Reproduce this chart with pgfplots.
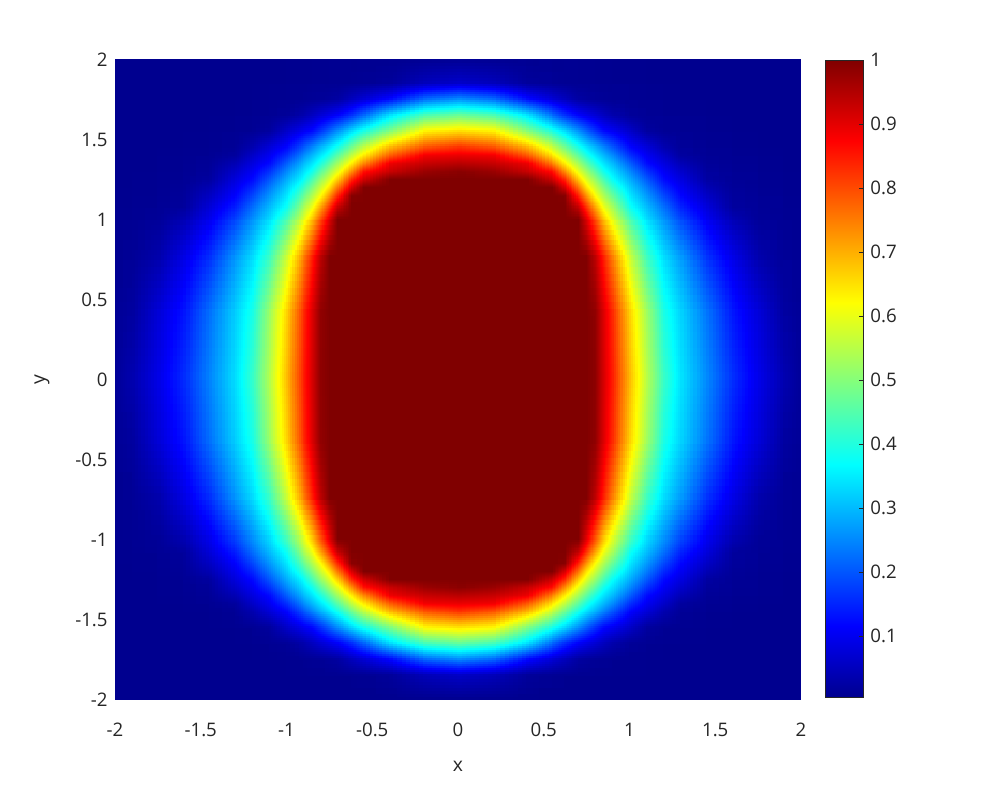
\documentclass[border=0pt]{standalone}
\usepackage{pgfplots}
\pgfplotsset{compat=1.18}
\usepgfplotslibrary{patchplots}
\usepackage{fontspec}
\setmainfont{Open Sans}
\definecolor{txt}{RGB}{38,38,38}

\begin{document}
\begin{tikzpicture}
\path[use as bounding box] (0,0) rectangle (747pt,590.25pt);
\begin{axis}[
  at={(86.25pt,65.25pt)}, anchor=south west,
  scale only axis, width=514.5pt, height=480pt,
  xmin=-2, xmax=2, ymin=-2, ymax=2,
  axis line style={draw=none},
  major tick length=0pt,
  xtick={-2,-1.5,-1,-0.5,0,0.5,1,1.5,2},
  ytick={-2,-1.5,-1,-0.5,0,0.5,1,1.5,2},
  xticklabels={-2,-1.5,-1,-0.5,0,0.5,1,1.5,2},
  yticklabels={-2,-1.5,-1,-0.5,0,0.5,1,1.5,2},
  tick label style={font=\fontsize{14}{16}\selectfont, text=txt},
  xticklabel style={yshift=-13.5pt},
  yticklabel style={xshift=-2pt},
  xlabel={x}, ylabel={y},
  label style={font=\fontsize{14.5}{17}\selectfont, text=txt},
  xlabel style={at={(axis description cs:0.5,-0.103)}, anchor=center},
  ylabel style={at={(axis description cs:-0.1064,0.5)}, anchor=center},
  colormap={mjet}{rgb255(0pt)=(0,0,143) rgb255(7pt)=(0,0,255) rgb255(23pt)=(0,255,255) rgb255(39pt)=(255,255,0) rgb255(55pt)=(255,0,0) rgb255(63pt)=(128,0,0)},
  point meta min=0.005, point meta max=1,
  colorbar,
  colorbar/width=28.5pt,
  colorbar style={
    at={(parent axis.north east)}, anchor=north west, xshift=9.47pt,
    height=477.75pt,
    ytick={0.1,0.2,0.3,0.4,0.5,0.6,0.7,0.8,0.9,1},
    yticklabels={0.1,0.2,0.3,0.4,0.5,0.6,0.7,0.8,0.9,1},
    yticklabel style={font=\fontsize{14}{16}\selectfont, text=txt, xshift=2pt},
    major tick length=3pt, tick align=inside, ytick pos=right,
    axis line style={draw=txt, line width=0.5pt},
    tick style={draw=txt, line width=0.5pt},
  },
]
\addplot[surf, shader=interp, patch type=bilinear, mesh/cols=37, point meta=\thisrow{z}] table[row sep=\\] {
x y z\\
-2 -2 0.005\\ -1.9 -2 0.005\\ -1.75 -2 0.005\\ -1.6 -2 0.005\\ -1.45 -2 0.005\\ -1.3 -2 0.005\\ -1.2 -2 0.005\\ -1.1 -2 0.005\\ -1 -2 0.005\\ -0.9 -2 0.005\\ -0.85 -2 0.005\\ -0.8 -2 0.005\\ -0.75 -2 0.005\\ -0.7 -2 0.005\\ -0.62 -2 0.005\\ -0.55 -2 0.005\\ -0.4 -2 0.006\\ -0.2 -2 0.007\\ 0 -2 0.008\\ 0.2 -2 0.007\\ 0.4 -2 0.006\\ 0.55 -2 0.005\\ 0.62 -2 0.005\\ 0.7 -2 0.005\\ 0.75 -2 0.005\\ 0.8 -2 0.005\\ 0.85 -2 0.005\\ 0.9 -2 0.005\\ 1 -2 0.005\\ 1.1 -2 0.005\\ 1.2 -2 0.005\\ 1.3 -2 0.005\\ 1.45 -2 0.005\\ 1.6 -2 0.005\\ 1.75 -2 0.005\\ 1.9 -2 0.005\\ 2 -2 0.005\\
-2 -1.85 0.005\\ -1.9 -1.85 0.005\\ -1.75 -1.85 0.005\\ -1.6 -1.85 0.005\\ -1.45 -1.85 0.005\\ -1.3 -1.85 0.005\\ -1.2 -1.85 0.005\\ -1.1 -1.85 0.005\\ -1 -1.85 0.006\\ -0.9 -1.85 0.006\\ -0.85 -1.85 0.007\\ -0.8 -1.85 0.007\\ -0.75 -1.85 0.008\\ -0.7 -1.85 0.008\\ -0.62 -1.85 0.009\\ -0.55 -1.85 0.011\\ -0.4 -1.85 0.017\\ -0.2 -1.85 0.047\\ 0 -1.85 0.061\\ 0.2 -1.85 0.047\\ 0.4 -1.85 0.017\\ 0.55 -1.85 0.011\\ 0.62 -1.85 0.009\\ 0.7 -1.85 0.008\\ 0.75 -1.85 0.008\\ 0.8 -1.85 0.007\\ 0.85 -1.85 0.007\\ 0.9 -1.85 0.006\\ 1 -1.85 0.006\\ 1.1 -1.85 0.005\\ 1.2 -1.85 0.005\\ 1.3 -1.85 0.005\\ 1.45 -1.85 0.005\\ 1.6 -1.85 0.005\\ 1.75 -1.85 0.005\\ 1.9 -1.85 0.005\\ 2 -1.85 0.005\\
-2 -1.75 0.005\\ -1.9 -1.75 0.005\\ -1.75 -1.75 0.005\\ -1.6 -1.75 0.005\\ -1.45 -1.75 0.005\\ -1.3 -1.75 0.005\\ -1.2 -1.75 0.006\\ -1.1 -1.75 0.007\\ -1 -1.75 0.008\\ -0.9 -1.75 0.010\\ -0.85 -1.75 0.012\\ -0.8 -1.75 0.014\\ -0.75 -1.75 0.018\\ -0.7 -1.75 0.024\\ -0.62 -1.75 0.051\\ -0.55 -1.75 0.074\\ -0.4 -1.75 0.124\\ -0.2 -1.75 0.220\\ 0 -1.75 0.254\\ 0.2 -1.75 0.220\\ 0.4 -1.75 0.124\\ 0.55 -1.75 0.074\\ 0.62 -1.75 0.051\\ 0.7 -1.75 0.024\\ 0.75 -1.75 0.018\\ 0.8 -1.75 0.014\\ 0.85 -1.75 0.012\\ 0.9 -1.75 0.010\\ 1 -1.75 0.008\\ 1.1 -1.75 0.007\\ 1.2 -1.75 0.006\\ 1.3 -1.75 0.005\\ 1.45 -1.75 0.005\\ 1.6 -1.75 0.005\\ 1.75 -1.75 0.005\\ 1.9 -1.75 0.005\\ 2 -1.75 0.005\\
-2 -1.65 0.005\\ -1.9 -1.65 0.005\\ -1.75 -1.65 0.005\\ -1.6 -1.65 0.005\\ -1.45 -1.65 0.005\\ -1.3 -1.65 0.006\\ -1.2 -1.65 0.008\\ -1.1 -1.65 0.010\\ -1 -1.65 0.015\\ -0.9 -1.65 0.034\\ -0.85 -1.65 0.053\\ -0.8 -1.65 0.073\\ -0.75 -1.65 0.093\\ -0.7 -1.65 0.113\\ -0.62 -1.65 0.161\\ -0.55 -1.65 0.218\\ -0.4 -1.65 0.340\\ -0.2 -1.65 0.440\\ 0 -1.65 0.470\\ 0.2 -1.65 0.440\\ 0.4 -1.65 0.340\\ 0.55 -1.65 0.218\\ 0.62 -1.65 0.161\\ 0.7 -1.65 0.113\\ 0.75 -1.65 0.093\\ 0.8 -1.65 0.073\\ 0.85 -1.65 0.053\\ 0.9 -1.65 0.034\\ 1 -1.65 0.015\\ 1.1 -1.65 0.010\\ 1.2 -1.65 0.008\\ 1.3 -1.65 0.006\\ 1.45 -1.65 0.005\\ 1.6 -1.65 0.005\\ 1.75 -1.65 0.005\\ 1.9 -1.65 0.005\\ 2 -1.65 0.005\\
-2 -1.55 0.005\\ -1.9 -1.55 0.005\\ -1.75 -1.55 0.005\\ -1.6 -1.55 0.005\\ -1.45 -1.55 0.006\\ -1.3 -1.55 0.008\\ -1.2 -1.55 0.011\\ -1.1 -1.55 0.021\\ -1 -1.55 0.063\\ -0.9 -1.55 0.104\\ -0.85 -1.55 0.124\\ -0.8 -1.55 0.165\\ -0.75 -1.55 0.212\\ -0.7 -1.55 0.259\\ -0.62 -1.55 0.333\\ -0.55 -1.55 0.393\\ -0.4 -1.55 0.498\\ -0.2 -1.55 0.631\\ 0 -1.55 0.653\\ 0.2 -1.55 0.631\\ 0.4 -1.55 0.498\\ 0.55 -1.55 0.393\\ 0.62 -1.55 0.333\\ 0.7 -1.55 0.259\\ 0.75 -1.55 0.212\\ 0.8 -1.55 0.165\\ 0.85 -1.55 0.124\\ 0.9 -1.55 0.104\\ 1 -1.55 0.063\\ 1.1 -1.55 0.021\\ 1.2 -1.55 0.011\\ 1.3 -1.55 0.008\\ 1.45 -1.55 0.006\\ 1.6 -1.55 0.005\\ 1.75 -1.55 0.005\\ 1.9 -1.55 0.005\\ 2 -1.55 0.005\\
-2 -1.45 0.005\\ -1.9 -1.45 0.005\\ -1.75 -1.45 0.005\\ -1.6 -1.45 0.006\\ -1.45 -1.45 0.008\\ -1.3 -1.45 0.014\\ -1.2 -1.45 0.037\\ -1.1 -1.45 0.078\\ -1 -1.45 0.120\\ -0.9 -1.45 0.201\\ -0.85 -1.45 0.248\\ -0.8 -1.45 0.294\\ -0.75 -1.45 0.340\\ -0.7 -1.45 0.389\\ -0.62 -1.45 0.481\\ -0.55 -1.45 0.562\\ -0.4 -1.45 0.695\\ -0.2 -1.45 0.792\\ 0 -1.45 0.825\\ 0.2 -1.45 0.792\\ 0.4 -1.45 0.695\\ 0.55 -1.45 0.562\\ 0.62 -1.45 0.481\\ 0.7 -1.45 0.389\\ 0.75 -1.45 0.340\\ 0.8 -1.45 0.294\\ 0.85 -1.45 0.248\\ 0.9 -1.45 0.201\\ 1 -1.45 0.120\\ 1.1 -1.45 0.078\\ 1.2 -1.45 0.037\\ 1.3 -1.45 0.014\\ 1.45 -1.45 0.008\\ 1.6 -1.45 0.006\\ 1.75 -1.45 0.005\\ 1.9 -1.45 0.005\\ 2 -1.45 0.005\\
-2 -1.4 0.005\\ -1.9 -1.4 0.005\\ -1.75 -1.4 0.006\\ -1.6 -1.4 0.007\\ -1.45 -1.4 0.010\\ -1.3 -1.4 0.021\\ -1.2 -1.4 0.062\\ -1.1 -1.4 0.103\\ -1 -1.4 0.163\\ -0.9 -1.4 0.254\\ -0.85 -1.4 0.300\\ -0.8 -1.4 0.345\\ -0.75 -1.4 0.396\\ -0.7 -1.4 0.460\\ -0.62 -1.4 0.561\\ -0.55 -1.4 0.644\\ -0.4 -1.4 0.786\\ -0.2 -1.4 0.887\\ 0 -1.4 0.895\\ 0.2 -1.4 0.887\\ 0.4 -1.4 0.786\\ 0.55 -1.4 0.644\\ 0.62 -1.4 0.561\\ 0.7 -1.4 0.460\\ 0.75 -1.4 0.396\\ 0.8 -1.4 0.345\\ 0.85 -1.4 0.300\\ 0.9 -1.4 0.254\\ 1 -1.4 0.163\\ 1.1 -1.4 0.103\\ 1.2 -1.4 0.062\\ 1.3 -1.4 0.021\\ 1.45 -1.4 0.010\\ 1.6 -1.4 0.007\\ 1.75 -1.4 0.006\\ 1.9 -1.4 0.005\\ 2 -1.4 0.005\\
-2 -1.35 0.005\\ -1.9 -1.35 0.005\\ -1.75 -1.35 0.007\\ -1.6 -1.35 0.009\\ -1.45 -1.35 0.014\\ -1.3 -1.35 0.043\\ -1.2 -1.35 0.084\\ -1.1 -1.35 0.125\\ -1 -1.35 0.210\\ -0.9 -1.35 0.300\\ -0.85 -1.35 0.344\\ -0.8 -1.35 0.395\\ -0.75 -1.35 0.462\\ -0.7 -1.35 0.530\\ -0.62 -1.35 0.639\\ -0.55 -1.35 0.742\\ -0.4 -1.35 0.892\\ -0.2 -1.35 0.930\\ 0 -1.35 0.943\\ 0.2 -1.35 0.930\\ 0.4 -1.35 0.892\\ 0.55 -1.35 0.742\\ 0.62 -1.35 0.639\\ 0.7 -1.35 0.530\\ 0.75 -1.35 0.462\\ 0.8 -1.35 0.395\\ 0.85 -1.35 0.344\\ 0.9 -1.35 0.300\\ 1 -1.35 0.210\\ 1.1 -1.35 0.125\\ 1.2 -1.35 0.084\\ 1.3 -1.35 0.043\\ 1.45 -1.35 0.014\\ 1.6 -1.35 0.009\\ 1.75 -1.35 0.007\\ 1.9 -1.35 0.005\\ 2 -1.35 0.005\\
-2 -1.3 0.005\\ -1.9 -1.3 0.005\\ -1.75 -1.3 0.007\\ -1.6 -1.3 0.010\\ -1.45 -1.3 0.018\\ -1.3 -1.3 0.064\\ -1.2 -1.3 0.105\\ -1.1 -1.3 0.165\\ -1 -1.3 0.252\\ -0.9 -1.3 0.339\\ -0.85 -1.3 0.386\\ -0.8 -1.3 0.456\\ -0.75 -1.3 0.527\\ -0.7 -1.3 0.597\\ -0.62 -1.3 0.734\\ -0.55 -1.3 0.860\\ -0.4 -1.3 0.928\\ -0.2 -1.3 0.974\\ 0 -1.3 0.990\\ 0.2 -1.3 0.974\\ 0.4 -1.3 0.928\\ 0.55 -1.3 0.860\\ 0.62 -1.3 0.734\\ 0.7 -1.3 0.597\\ 0.75 -1.3 0.527\\ 0.8 -1.3 0.456\\ 0.85 -1.3 0.386\\ 0.9 -1.3 0.339\\ 1 -1.3 0.252\\ 1.1 -1.3 0.165\\ 1.2 -1.3 0.105\\ 1.3 -1.3 0.064\\ 1.45 -1.3 0.018\\ 1.6 -1.3 0.010\\ 1.75 -1.3 0.007\\ 1.9 -1.3 0.005\\ 2 -1.3 0.005\\
-2 -1.25 0.005\\ -1.9 -1.25 0.006\\ -1.75 -1.25 0.008\\ -1.6 -1.25 0.012\\ -1.45 -1.25 0.023\\ -1.3 -1.25 0.083\\ -1.2 -1.25 0.124\\ -1.1 -1.25 0.203\\ -1 -1.25 0.288\\ -0.9 -1.25 0.373\\ -0.85 -1.25 0.442\\ -0.8 -1.25 0.515\\ -0.75 -1.25 0.587\\ -0.7 -1.25 0.673\\ -0.62 -1.25 0.836\\ -0.55 -1.25 0.922\\ -0.4 -1.25 1\\ -0.2 -1.25 1\\ 0 -1.25 1\\ 0.2 -1.25 1\\ 0.4 -1.25 1\\ 0.55 -1.25 0.922\\ 0.62 -1.25 0.836\\ 0.7 -1.25 0.673\\ 0.75 -1.25 0.587\\ 0.8 -1.25 0.515\\ 0.85 -1.25 0.442\\ 0.9 -1.25 0.373\\ 1 -1.25 0.288\\ 1.1 -1.25 0.203\\ 1.2 -1.25 0.124\\ 1.3 -1.25 0.083\\ 1.45 -1.25 0.023\\ 1.6 -1.25 0.012\\ 1.75 -1.25 0.008\\ 1.9 -1.25 0.006\\ 2 -1.25 0.005\\
-2 -1.2 0.005\\ -1.9 -1.2 0.007\\ -1.75 -1.2 0.009\\ -1.6 -1.2 0.014\\ -1.45 -1.2 0.041\\ -1.3 -1.2 0.101\\ -1.2 -1.2 0.154\\ -1.1 -1.2 0.237\\ -1 -1.2 0.320\\ -0.9 -1.2 0.422\\ -0.85 -1.2 0.495\\ -0.8 -1.2 0.568\\ -0.75 -1.2 0.649\\ -0.7 -1.2 0.759\\ -0.62 -1.2 0.914\\ -0.55 -1.2 1\\ -0.4 -1.2 1\\ -0.2 -1.2 1\\ 0 -1.2 1\\ 0.2 -1.2 1\\ 0.4 -1.2 1\\ 0.55 -1.2 1\\ 0.62 -1.2 0.914\\ 0.7 -1.2 0.759\\ 0.75 -1.2 0.649\\ 0.8 -1.2 0.568\\ 0.85 -1.2 0.495\\ 0.9 -1.2 0.422\\ 1 -1.2 0.320\\ 1.1 -1.2 0.237\\ 1.2 -1.2 0.154\\ 1.3 -1.2 0.101\\ 1.45 -1.2 0.041\\ 1.6 -1.2 0.014\\ 1.75 -1.2 0.009\\ 1.9 -1.2 0.007\\ 2 -1.2 0.005\\
-2 -1.15 0.006\\ -1.9 -1.15 0.007\\ -1.75 -1.15 0.010\\ -1.6 -1.15 0.017\\ -1.45 -1.15 0.057\\ -1.3 -1.15 0.117\\ -1.2 -1.15 0.185\\ -1.1 -1.15 0.266\\ -1 -1.15 0.347\\ -0.9 -1.15 0.469\\ -0.85 -1.15 0.543\\ -0.8 -1.15 0.618\\ -0.75 -1.15 0.726\\ -0.7 -1.15 0.839\\ -0.62 -1.15 0.992\\ -0.55 -1.15 1\\ -0.4 -1.15 1\\ -0.2 -1.15 1\\ 0 -1.15 1\\ 0.2 -1.15 1\\ 0.4 -1.15 1\\ 0.55 -1.15 1\\ 0.62 -1.15 0.992\\ 0.7 -1.15 0.839\\ 0.75 -1.15 0.726\\ 0.8 -1.15 0.618\\ 0.85 -1.15 0.543\\ 0.9 -1.15 0.469\\ 1 -1.15 0.347\\ 1.1 -1.15 0.266\\ 1.2 -1.15 0.185\\ 1.3 -1.15 0.117\\ 1.45 -1.15 0.057\\ 1.6 -1.15 0.017\\ 1.75 -1.15 0.010\\ 1.9 -1.15 0.007\\ 2 -1.15 0.006\\
-2 -1.08 0.006\\ -1.9 -1.08 0.008\\ -1.75 -1.08 0.012\\ -1.6 -1.08 0.019\\ -1.45 -1.08 0.078\\ -1.3 -1.08 0.145\\ -1.2 -1.08 0.223\\ -1.1 -1.08 0.301\\ -1 -1.08 0.381\\ -0.9 -1.08 0.530\\ -0.85 -1.08 0.604\\ -0.8 -1.08 0.706\\ -0.75 -1.08 0.820\\ -0.7 -1.08 0.930\\ -0.62 -1.08 1\\ -0.55 -1.08 1\\ -0.4 -1.08 1\\ -0.2 -1.08 1\\ 0 -1.08 1\\ 0.2 -1.08 1\\ 0.4 -1.08 1\\ 0.55 -1.08 1\\ 0.62 -1.08 1\\ 0.7 -1.08 0.930\\ 0.75 -1.08 0.820\\ 0.8 -1.08 0.706\\ 0.85 -1.08 0.604\\ 0.9 -1.08 0.530\\ 1 -1.08 0.381\\ 1.1 -1.08 0.301\\ 1.2 -1.08 0.223\\ 1.3 -1.08 0.145\\ 1.45 -1.08 0.078\\ 1.6 -1.08 0.019\\ 1.75 -1.08 0.012\\ 1.9 -1.08 0.008\\ 2 -1.08 0.006\\
-2 -1 0.007\\ -1.9 -1 0.009\\ -1.75 -1 0.014\\ -1.6 -1 0.040\\ -1.45 -1 0.099\\ -1.3 -1 0.183\\ -1.2 -1 0.259\\ -1.1 -1 0.335\\ -1 -1 0.441\\ -0.9 -1 0.588\\ -0.85 -1 0.680\\ -0.8 -1 0.792\\ -0.75 -1 0.904\\ -0.7 -1 1\\ -0.62 -1 1\\ -0.55 -1 1\\ -0.4 -1 1\\ -0.2 -1 1\\ 0 -1 1\\ 0.2 -1 1\\ 0.4 -1 1\\ 0.55 -1 1\\ 0.62 -1 1\\ 0.7 -1 1\\ 0.75 -1 0.904\\ 0.8 -1 0.792\\ 0.85 -1 0.680\\ 0.9 -1 0.588\\ 1 -1 0.441\\ 1.1 -1 0.335\\ 1.2 -1 0.259\\ 1.3 -1 0.183\\ 1.45 -1 0.099\\ 1.6 -1 0.040\\ 1.75 -1 0.014\\ 1.9 -1 0.009\\ 2 -1 0.007\\
-2 -0.75 0.008\\ -1.9 -0.75 0.013\\ -1.75 -0.75 0.034\\ -1.6 -0.75 0.091\\ -1.45 -0.75 0.163\\ -1.3 -0.75 0.267\\ -1.2 -0.75 0.335\\ -1.1 -0.75 0.431\\ -1 -0.75 0.573\\ -0.9 -0.75 0.748\\ -0.85 -0.75 0.846\\ -0.8 -0.75 0.939\\ -0.75 -0.75 1\\ -0.7 -0.75 1\\ -0.62 -0.75 1\\ -0.55 -0.75 1\\ -0.4 -0.75 1\\ -0.2 -0.75 1\\ 0 -0.75 1\\ 0.2 -0.75 1\\ 0.4 -0.75 1\\ 0.55 -0.75 1\\ 0.62 -0.75 1\\ 0.7 -0.75 1\\ 0.75 -0.75 1\\ 0.8 -0.75 0.939\\ 0.85 -0.75 0.846\\ 0.9 -0.75 0.748\\ 1 -0.75 0.573\\ 1.1 -0.75 0.431\\ 1.2 -0.75 0.335\\ 1.3 -0.75 0.267\\ 1.45 -0.75 0.163\\ 1.6 -0.75 0.091\\ 1.75 -0.75 0.034\\ 1.9 -0.75 0.013\\ 2 -0.75 0.008\\
-2 -0.4 0.012\\ -1.9 -0.4 0.022\\ -1.75 -0.4 0.077\\ -1.6 -0.4 0.135\\ -1.45 -0.4 0.229\\ -1.3 -0.4 0.323\\ -1.2 -0.4 0.393\\ -1.1 -0.4 0.526\\ -1 -0.4 0.666\\ -0.9 -0.4 0.832\\ -0.85 -0.4 0.910\\ -0.8 -0.4 0.983\\ -0.75 -0.4 1\\ -0.7 -0.4 1\\ -0.62 -0.4 1\\ -0.55 -0.4 1\\ -0.4 -0.4 1\\ -0.2 -0.4 1\\ 0 -0.4 1\\ 0.2 -0.4 1\\ 0.4 -0.4 1\\ 0.55 -0.4 1\\ 0.62 -0.4 1\\ 0.7 -0.4 1\\ 0.75 -0.4 1\\ 0.8 -0.4 0.983\\ 0.85 -0.4 0.910\\ 0.9 -0.4 0.832\\ 1 -0.4 0.666\\ 1.1 -0.4 0.526\\ 1.2 -0.4 0.393\\ 1.3 -0.4 0.323\\ 1.45 -0.4 0.229\\ 1.6 -0.4 0.135\\ 1.75 -0.4 0.077\\ 1.9 -0.4 0.022\\ 2 -0.4 0.012\\
-2 0 0.014\\ -1.9 0 0.038\\ -1.75 0 0.093\\ -1.6 0 0.159\\ -1.45 0 0.249\\ -1.3 0 0.339\\ -1.2 0 0.423\\ -1.1 0 0.550\\ -1 0 0.689\\ -0.9 0 0.845\\ -0.85 0 0.917\\ -0.8 0 0.986\\ -0.75 0 1\\ -0.7 0 1\\ -0.62 0 1\\ -0.55 0 1\\ -0.4 0 1\\ -0.2 0 1\\ 0 0 1\\ 0.2 0 1\\ 0.4 0 1\\ 0.55 0 1\\ 0.62 0 1\\ 0.7 0 1\\ 0.75 0 1\\ 0.8 0 0.986\\ 0.85 0 0.917\\ 0.9 0 0.845\\ 1 0 0.689\\ 1.1 0 0.550\\ 1.2 0 0.423\\ 1.3 0 0.339\\ 1.45 0 0.249\\ 1.6 0 0.159\\ 1.75 0 0.093\\ 1.9 0 0.038\\ 2 0 0.014\\
-2 0.4 0.012\\ -1.9 0.4 0.022\\ -1.75 0.4 0.077\\ -1.6 0.4 0.135\\ -1.45 0.4 0.229\\ -1.3 0.4 0.323\\ -1.2 0.4 0.393\\ -1.1 0.4 0.526\\ -1 0.4 0.666\\ -0.9 0.4 0.832\\ -0.85 0.4 0.910\\ -0.8 0.4 0.983\\ -0.75 0.4 1\\ -0.7 0.4 1\\ -0.62 0.4 1\\ -0.55 0.4 1\\ -0.4 0.4 1\\ -0.2 0.4 1\\ 0 0.4 1\\ 0.2 0.4 1\\ 0.4 0.4 1\\ 0.55 0.4 1\\ 0.62 0.4 1\\ 0.7 0.4 1\\ 0.75 0.4 1\\ 0.8 0.4 0.983\\ 0.85 0.4 0.910\\ 0.9 0.4 0.832\\ 1 0.4 0.666\\ 1.1 0.4 0.526\\ 1.2 0.4 0.393\\ 1.3 0.4 0.323\\ 1.45 0.4 0.229\\ 1.6 0.4 0.135\\ 1.75 0.4 0.077\\ 1.9 0.4 0.022\\ 2 0.4 0.012\\
-2 0.75 0.008\\ -1.9 0.75 0.013\\ -1.75 0.75 0.034\\ -1.6 0.75 0.091\\ -1.45 0.75 0.163\\ -1.3 0.75 0.267\\ -1.2 0.75 0.335\\ -1.1 0.75 0.431\\ -1 0.75 0.573\\ -0.9 0.75 0.748\\ -0.85 0.75 0.846\\ -0.8 0.75 0.939\\ -0.75 0.75 1\\ -0.7 0.75 1\\ -0.62 0.75 1\\ -0.55 0.75 1\\ -0.4 0.75 1\\ -0.2 0.75 1\\ 0 0.75 1\\ 0.2 0.75 1\\ 0.4 0.75 1\\ 0.55 0.75 1\\ 0.62 0.75 1\\ 0.7 0.75 1\\ 0.75 0.75 1\\ 0.8 0.75 0.939\\ 0.85 0.75 0.846\\ 0.9 0.75 0.748\\ 1 0.75 0.573\\ 1.1 0.75 0.431\\ 1.2 0.75 0.335\\ 1.3 0.75 0.267\\ 1.45 0.75 0.163\\ 1.6 0.75 0.091\\ 1.75 0.75 0.034\\ 1.9 0.75 0.013\\ 2 0.75 0.008\\
-2 1 0.007\\ -1.9 1 0.009\\ -1.75 1 0.014\\ -1.6 1 0.040\\ -1.45 1 0.099\\ -1.3 1 0.183\\ -1.2 1 0.259\\ -1.1 1 0.335\\ -1 1 0.441\\ -0.9 1 0.588\\ -0.85 1 0.680\\ -0.8 1 0.792\\ -0.75 1 0.904\\ -0.7 1 1\\ -0.62 1 1\\ -0.55 1 1\\ -0.4 1 1\\ -0.2 1 1\\ 0 1 1\\ 0.2 1 1\\ 0.4 1 1\\ 0.55 1 1\\ 0.62 1 1\\ 0.7 1 1\\ 0.75 1 0.904\\ 0.8 1 0.792\\ 0.85 1 0.680\\ 0.9 1 0.588\\ 1 1 0.441\\ 1.1 1 0.335\\ 1.2 1 0.259\\ 1.3 1 0.183\\ 1.45 1 0.099\\ 1.6 1 0.040\\ 1.75 1 0.014\\ 1.9 1 0.009\\ 2 1 0.007\\
-2 1.08 0.006\\ -1.9 1.08 0.008\\ -1.75 1.08 0.012\\ -1.6 1.08 0.019\\ -1.45 1.08 0.078\\ -1.3 1.08 0.145\\ -1.2 1.08 0.223\\ -1.1 1.08 0.301\\ -1 1.08 0.381\\ -0.9 1.08 0.530\\ -0.85 1.08 0.604\\ -0.8 1.08 0.706\\ -0.75 1.08 0.820\\ -0.7 1.08 0.930\\ -0.62 1.08 1\\ -0.55 1.08 1\\ -0.4 1.08 1\\ -0.2 1.08 1\\ 0 1.08 1\\ 0.2 1.08 1\\ 0.4 1.08 1\\ 0.55 1.08 1\\ 0.62 1.08 1\\ 0.7 1.08 0.930\\ 0.75 1.08 0.820\\ 0.8 1.08 0.706\\ 0.85 1.08 0.604\\ 0.9 1.08 0.530\\ 1 1.08 0.381\\ 1.1 1.08 0.301\\ 1.2 1.08 0.223\\ 1.3 1.08 0.145\\ 1.45 1.08 0.078\\ 1.6 1.08 0.019\\ 1.75 1.08 0.012\\ 1.9 1.08 0.008\\ 2 1.08 0.006\\
-2 1.15 0.006\\ -1.9 1.15 0.007\\ -1.75 1.15 0.010\\ -1.6 1.15 0.017\\ -1.45 1.15 0.057\\ -1.3 1.15 0.117\\ -1.2 1.15 0.185\\ -1.1 1.15 0.266\\ -1 1.15 0.347\\ -0.9 1.15 0.469\\ -0.85 1.15 0.543\\ -0.8 1.15 0.618\\ -0.75 1.15 0.726\\ -0.7 1.15 0.839\\ -0.62 1.15 0.992\\ -0.55 1.15 1\\ -0.4 1.15 1\\ -0.2 1.15 1\\ 0 1.15 1\\ 0.2 1.15 1\\ 0.4 1.15 1\\ 0.55 1.15 1\\ 0.62 1.15 0.992\\ 0.7 1.15 0.839\\ 0.75 1.15 0.726\\ 0.8 1.15 0.618\\ 0.85 1.15 0.543\\ 0.9 1.15 0.469\\ 1 1.15 0.347\\ 1.1 1.15 0.266\\ 1.2 1.15 0.185\\ 1.3 1.15 0.117\\ 1.45 1.15 0.057\\ 1.6 1.15 0.017\\ 1.75 1.15 0.010\\ 1.9 1.15 0.007\\ 2 1.15 0.006\\
-2 1.2 0.005\\ -1.9 1.2 0.007\\ -1.75 1.2 0.009\\ -1.6 1.2 0.014\\ -1.45 1.2 0.041\\ -1.3 1.2 0.101\\ -1.2 1.2 0.154\\ -1.1 1.2 0.237\\ -1 1.2 0.320\\ -0.9 1.2 0.422\\ -0.85 1.2 0.495\\ -0.8 1.2 0.568\\ -0.75 1.2 0.649\\ -0.7 1.2 0.759\\ -0.62 1.2 0.914\\ -0.55 1.2 1\\ -0.4 1.2 1\\ -0.2 1.2 1\\ 0 1.2 1\\ 0.2 1.2 1\\ 0.4 1.2 1\\ 0.55 1.2 1\\ 0.62 1.2 0.914\\ 0.7 1.2 0.759\\ 0.75 1.2 0.649\\ 0.8 1.2 0.568\\ 0.85 1.2 0.495\\ 0.9 1.2 0.422\\ 1 1.2 0.320\\ 1.1 1.2 0.237\\ 1.2 1.2 0.154\\ 1.3 1.2 0.101\\ 1.45 1.2 0.041\\ 1.6 1.2 0.014\\ 1.75 1.2 0.009\\ 1.9 1.2 0.007\\ 2 1.2 0.005\\
-2 1.25 0.005\\ -1.9 1.25 0.006\\ -1.75 1.25 0.008\\ -1.6 1.25 0.012\\ -1.45 1.25 0.023\\ -1.3 1.25 0.083\\ -1.2 1.25 0.124\\ -1.1 1.25 0.203\\ -1 1.25 0.288\\ -0.9 1.25 0.373\\ -0.85 1.25 0.442\\ -0.8 1.25 0.515\\ -0.75 1.25 0.587\\ -0.7 1.25 0.673\\ -0.62 1.25 0.836\\ -0.55 1.25 0.922\\ -0.4 1.25 1\\ -0.2 1.25 1\\ 0 1.25 1\\ 0.2 1.25 1\\ 0.4 1.25 1\\ 0.55 1.25 0.922\\ 0.62 1.25 0.836\\ 0.7 1.25 0.673\\ 0.75 1.25 0.587\\ 0.8 1.25 0.515\\ 0.85 1.25 0.442\\ 0.9 1.25 0.373\\ 1 1.25 0.288\\ 1.1 1.25 0.203\\ 1.2 1.25 0.124\\ 1.3 1.25 0.083\\ 1.45 1.25 0.023\\ 1.6 1.25 0.012\\ 1.75 1.25 0.008\\ 1.9 1.25 0.006\\ 2 1.25 0.005\\
-2 1.3 0.005\\ -1.9 1.3 0.005\\ -1.75 1.3 0.007\\ -1.6 1.3 0.010\\ -1.45 1.3 0.018\\ -1.3 1.3 0.064\\ -1.2 1.3 0.105\\ -1.1 1.3 0.165\\ -1 1.3 0.252\\ -0.9 1.3 0.339\\ -0.85 1.3 0.386\\ -0.8 1.3 0.456\\ -0.75 1.3 0.527\\ -0.7 1.3 0.597\\ -0.62 1.3 0.734\\ -0.55 1.3 0.860\\ -0.4 1.3 0.928\\ -0.2 1.3 0.974\\ 0 1.3 0.990\\ 0.2 1.3 0.974\\ 0.4 1.3 0.928\\ 0.55 1.3 0.860\\ 0.62 1.3 0.734\\ 0.7 1.3 0.597\\ 0.75 1.3 0.527\\ 0.8 1.3 0.456\\ 0.85 1.3 0.386\\ 0.9 1.3 0.339\\ 1 1.3 0.252\\ 1.1 1.3 0.165\\ 1.2 1.3 0.105\\ 1.3 1.3 0.064\\ 1.45 1.3 0.018\\ 1.6 1.3 0.010\\ 1.75 1.3 0.007\\ 1.9 1.3 0.005\\ 2 1.3 0.005\\
-2 1.35 0.005\\ -1.9 1.35 0.005\\ -1.75 1.35 0.007\\ -1.6 1.35 0.009\\ -1.45 1.35 0.014\\ -1.3 1.35 0.043\\ -1.2 1.35 0.084\\ -1.1 1.35 0.125\\ -1 1.35 0.210\\ -0.9 1.35 0.300\\ -0.85 1.35 0.344\\ -0.8 1.35 0.395\\ -0.75 1.35 0.462\\ -0.7 1.35 0.530\\ -0.62 1.35 0.639\\ -0.55 1.35 0.742\\ -0.4 1.35 0.892\\ -0.2 1.35 0.930\\ 0 1.35 0.943\\ 0.2 1.35 0.930\\ 0.4 1.35 0.892\\ 0.55 1.35 0.742\\ 0.62 1.35 0.639\\ 0.7 1.35 0.530\\ 0.75 1.35 0.462\\ 0.8 1.35 0.395\\ 0.85 1.35 0.344\\ 0.9 1.35 0.300\\ 1 1.35 0.210\\ 1.1 1.35 0.125\\ 1.2 1.35 0.084\\ 1.3 1.35 0.043\\ 1.45 1.35 0.014\\ 1.6 1.35 0.009\\ 1.75 1.35 0.007\\ 1.9 1.35 0.005\\ 2 1.35 0.005\\
-2 1.4 0.005\\ -1.9 1.4 0.005\\ -1.75 1.4 0.006\\ -1.6 1.4 0.007\\ -1.45 1.4 0.010\\ -1.3 1.4 0.021\\ -1.2 1.4 0.062\\ -1.1 1.4 0.103\\ -1 1.4 0.163\\ -0.9 1.4 0.254\\ -0.85 1.4 0.300\\ -0.8 1.4 0.345\\ -0.75 1.4 0.396\\ -0.7 1.4 0.460\\ -0.62 1.4 0.561\\ -0.55 1.4 0.644\\ -0.4 1.4 0.786\\ -0.2 1.4 0.887\\ 0 1.4 0.895\\ 0.2 1.4 0.887\\ 0.4 1.4 0.786\\ 0.55 1.4 0.644\\ 0.62 1.4 0.561\\ 0.7 1.4 0.460\\ 0.75 1.4 0.396\\ 0.8 1.4 0.345\\ 0.85 1.4 0.300\\ 0.9 1.4 0.254\\ 1 1.4 0.163\\ 1.1 1.4 0.103\\ 1.2 1.4 0.062\\ 1.3 1.4 0.021\\ 1.45 1.4 0.010\\ 1.6 1.4 0.007\\ 1.75 1.4 0.006\\ 1.9 1.4 0.005\\ 2 1.4 0.005\\
-2 1.45 0.005\\ -1.9 1.45 0.005\\ -1.75 1.45 0.005\\ -1.6 1.45 0.006\\ -1.45 1.45 0.008\\ -1.3 1.45 0.014\\ -1.2 1.45 0.037\\ -1.1 1.45 0.078\\ -1 1.45 0.120\\ -0.9 1.45 0.201\\ -0.85 1.45 0.248\\ -0.8 1.45 0.294\\ -0.75 1.45 0.340\\ -0.7 1.45 0.389\\ -0.62 1.45 0.481\\ -0.55 1.45 0.562\\ -0.4 1.45 0.695\\ -0.2 1.45 0.792\\ 0 1.45 0.825\\ 0.2 1.45 0.792\\ 0.4 1.45 0.695\\ 0.55 1.45 0.562\\ 0.62 1.45 0.481\\ 0.7 1.45 0.389\\ 0.75 1.45 0.340\\ 0.8 1.45 0.294\\ 0.85 1.45 0.248\\ 0.9 1.45 0.201\\ 1 1.45 0.120\\ 1.1 1.45 0.078\\ 1.2 1.45 0.037\\ 1.3 1.45 0.014\\ 1.45 1.45 0.008\\ 1.6 1.45 0.006\\ 1.75 1.45 0.005\\ 1.9 1.45 0.005\\ 2 1.45 0.005\\
-2 1.55 0.005\\ -1.9 1.55 0.005\\ -1.75 1.55 0.005\\ -1.6 1.55 0.005\\ -1.45 1.55 0.006\\ -1.3 1.55 0.008\\ -1.2 1.55 0.011\\ -1.1 1.55 0.021\\ -1 1.55 0.063\\ -0.9 1.55 0.104\\ -0.85 1.55 0.124\\ -0.8 1.55 0.165\\ -0.75 1.55 0.212\\ -0.7 1.55 0.259\\ -0.62 1.55 0.333\\ -0.55 1.55 0.393\\ -0.4 1.55 0.498\\ -0.2 1.55 0.631\\ 0 1.55 0.653\\ 0.2 1.55 0.631\\ 0.4 1.55 0.498\\ 0.55 1.55 0.393\\ 0.62 1.55 0.333\\ 0.7 1.55 0.259\\ 0.75 1.55 0.212\\ 0.8 1.55 0.165\\ 0.85 1.55 0.124\\ 0.9 1.55 0.104\\ 1 1.55 0.063\\ 1.1 1.55 0.021\\ 1.2 1.55 0.011\\ 1.3 1.55 0.008\\ 1.45 1.55 0.006\\ 1.6 1.55 0.005\\ 1.75 1.55 0.005\\ 1.9 1.55 0.005\\ 2 1.55 0.005\\
-2 1.65 0.005\\ -1.9 1.65 0.005\\ -1.75 1.65 0.005\\ -1.6 1.65 0.005\\ -1.45 1.65 0.005\\ -1.3 1.65 0.006\\ -1.2 1.65 0.008\\ -1.1 1.65 0.010\\ -1 1.65 0.015\\ -0.9 1.65 0.034\\ -0.85 1.65 0.053\\ -0.8 1.65 0.073\\ -0.75 1.65 0.093\\ -0.7 1.65 0.113\\ -0.62 1.65 0.161\\ -0.55 1.65 0.218\\ -0.4 1.65 0.340\\ -0.2 1.65 0.440\\ 0 1.65 0.470\\ 0.2 1.65 0.440\\ 0.4 1.65 0.340\\ 0.55 1.65 0.218\\ 0.62 1.65 0.161\\ 0.7 1.65 0.113\\ 0.75 1.65 0.093\\ 0.8 1.65 0.073\\ 0.85 1.65 0.053\\ 0.9 1.65 0.034\\ 1 1.65 0.015\\ 1.1 1.65 0.010\\ 1.2 1.65 0.008\\ 1.3 1.65 0.006\\ 1.45 1.65 0.005\\ 1.6 1.65 0.005\\ 1.75 1.65 0.005\\ 1.9 1.65 0.005\\ 2 1.65 0.005\\
-2 1.75 0.005\\ -1.9 1.75 0.005\\ -1.75 1.75 0.005\\ -1.6 1.75 0.005\\ -1.45 1.75 0.005\\ -1.3 1.75 0.005\\ -1.2 1.75 0.006\\ -1.1 1.75 0.007\\ -1 1.75 0.008\\ -0.9 1.75 0.010\\ -0.85 1.75 0.012\\ -0.8 1.75 0.014\\ -0.75 1.75 0.018\\ -0.7 1.75 0.024\\ -0.62 1.75 0.051\\ -0.55 1.75 0.074\\ -0.4 1.75 0.124\\ -0.2 1.75 0.220\\ 0 1.75 0.254\\ 0.2 1.75 0.220\\ 0.4 1.75 0.124\\ 0.55 1.75 0.074\\ 0.62 1.75 0.051\\ 0.7 1.75 0.024\\ 0.75 1.75 0.018\\ 0.8 1.75 0.014\\ 0.85 1.75 0.012\\ 0.9 1.75 0.010\\ 1 1.75 0.008\\ 1.1 1.75 0.007\\ 1.2 1.75 0.006\\ 1.3 1.75 0.005\\ 1.45 1.75 0.005\\ 1.6 1.75 0.005\\ 1.75 1.75 0.005\\ 1.9 1.75 0.005\\ 2 1.75 0.005\\
-2 1.85 0.005\\ -1.9 1.85 0.005\\ -1.75 1.85 0.005\\ -1.6 1.85 0.005\\ -1.45 1.85 0.005\\ -1.3 1.85 0.005\\ -1.2 1.85 0.005\\ -1.1 1.85 0.005\\ -1 1.85 0.006\\ -0.9 1.85 0.006\\ -0.85 1.85 0.007\\ -0.8 1.85 0.007\\ -0.75 1.85 0.008\\ -0.7 1.85 0.008\\ -0.62 1.85 0.009\\ -0.55 1.85 0.011\\ -0.4 1.85 0.017\\ -0.2 1.85 0.047\\ 0 1.85 0.061\\ 0.2 1.85 0.047\\ 0.4 1.85 0.017\\ 0.55 1.85 0.011\\ 0.62 1.85 0.009\\ 0.7 1.85 0.008\\ 0.75 1.85 0.008\\ 0.8 1.85 0.007\\ 0.85 1.85 0.007\\ 0.9 1.85 0.006\\ 1 1.85 0.006\\ 1.1 1.85 0.005\\ 1.2 1.85 0.005\\ 1.3 1.85 0.005\\ 1.45 1.85 0.005\\ 1.6 1.85 0.005\\ 1.75 1.85 0.005\\ 1.9 1.85 0.005\\ 2 1.85 0.005\\
-2 2 0.005\\ -1.9 2 0.005\\ -1.75 2 0.005\\ -1.6 2 0.005\\ -1.45 2 0.005\\ -1.3 2 0.005\\ -1.2 2 0.005\\ -1.1 2 0.005\\ -1 2 0.005\\ -0.9 2 0.005\\ -0.85 2 0.005\\ -0.8 2 0.005\\ -0.75 2 0.005\\ -0.7 2 0.005\\ -0.62 2 0.005\\ -0.55 2 0.005\\ -0.4 2 0.006\\ -0.2 2 0.007\\ 0 2 0.008\\ 0.2 2 0.007\\ 0.4 2 0.006\\ 0.55 2 0.005\\ 0.62 2 0.005\\ 0.7 2 0.005\\ 0.75 2 0.005\\ 0.8 2 0.005\\ 0.85 2 0.005\\ 0.9 2 0.005\\ 1 2 0.005\\ 1.1 2 0.005\\ 1.2 2 0.005\\ 1.3 2 0.005\\ 1.45 2 0.005\\ 1.6 2 0.005\\ 1.75 2 0.005\\ 1.9 2 0.005\\ 2 2 0.005\\
};
\end{axis}
\end{tikzpicture}
\end{document}
